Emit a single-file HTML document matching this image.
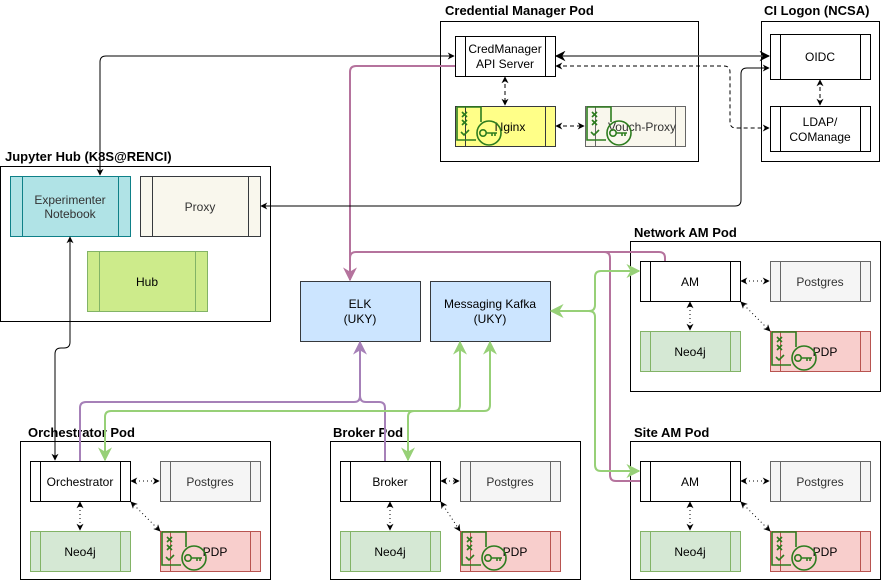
<!DOCTYPE html>
<html><head><meta charset="utf-8"><style>
body{margin:0;background:#fff}
svg{display:block}
text{font-family:"Liberation Sans",Arial,sans-serif;font-size:12px;text-anchor:middle}
.t{font-weight:bold;font-size:13px;text-anchor:start}
</style></head><body>
<svg width="881" height="582" viewBox="0 0 881 582" xmlns="http://www.w3.org/2000/svg">
<defs>
<marker id="a" viewBox="0 0 10 10" refX="9" refY="5" markerWidth="7" markerHeight="7" orient="auto-start-reverse"><path d="M0,0 L10,5 L0,10 L3,5z" fill="#000"/></marker>
<marker id="p" viewBox="0 0 10 10" refX="9" refY="5" markerWidth="7" markerHeight="7" orient="auto-start-reverse"><path d="M0,0 L10,5 L0,10 L3,5z" fill="#b5739d"/></marker>
<marker id="v" viewBox="0 0 10 10" refX="9" refY="5" markerWidth="7" markerHeight="7" orient="auto-start-reverse"><path d="M0,0 L10,5 L0,10 L3,5z" fill="#a680b8"/></marker>
<marker id="g" viewBox="0 0 10 10" refX="9" refY="5" markerWidth="7" markerHeight="7" orient="auto-start-reverse"><path d="M0,0 L10,5 L0,10 L3,5z" fill="#97d077"/></marker>
<g id="ic" fill="none" stroke="#2d7d1f" stroke-width="1.6">
<path d="M1,1 H25 V16 M1,1 V34 H20"/>
<path d="M6,6 l5,5 M11,6 l-5,5 M6,14 l5,5 M11,14 l-5,5 M5,26 l3,3 l5,-5"/>
<circle cx="33" cy="27" r="12"/>
<circle cx="27" cy="27" r="3.2"/>
<path d="M30,27 H41 M36,27 v3 M39,27 v3"/>
</g>
</defs>

<g fill="none" stroke="#000" stroke-width="1">
<rect x="440.5" y="21.5" width="258" height="140"/>
<rect x="761.5" y="21.5" width="118" height="140"/>
<rect x="0.5" y="166.5" width="270" height="155"/>
<rect x="630.5" y="241.5" width="250" height="150"/>
<rect x="20.5" y="441.5" width="250" height="138"/>
<rect x="330.5" y="441.5" width="250" height="138"/>
<rect x="630.5" y="441.5" width="250" height="138"/>
</g>
<text class="t" x="445" y="15">Credential Manager Pod</text>
<text class="t" x="764" y="15">CI Logon (NCSA)</text>
<text class="t" x="5" y="161">Jupyter Hub (K8S@RENCI)</text>
<text class="t" x="634" y="237">Network AM Pod</text>
<text class="t" x="28" y="437">Orchestrator Pod</text>
<text class="t" x="333" y="437">Broker Pod</text>
<text class="t" x="634" y="437">Site AM Pod</text>

<g stroke-width="1">
<g stroke="#000" fill="#fff">
<rect x="455.5" y="36.5" width="100" height="40"/><path d="M465.5,36.5v40M545.5,36.5v40"/>
<rect x="770.5" y="34.5" width="100" height="45"/><path d="M780.5,34.5v45M860.5,34.5v45"/>
<rect x="770.5" y="106.5" width="100" height="45"/><path d="M780.5,106.5v45M860.5,106.5v45"/>
<rect x="30.5" y="461.5" width="100" height="40"/><path d="M40.5,461.5v40M120.5,461.5v40"/>
<rect x="340.5" y="461.5" width="100" height="40"/><path d="M350.5,461.5v40M430.5,461.5v40"/>
<rect x="640.5" y="461.5" width="100" height="40"/><path d="M650.5,461.5v40M730.5,461.5v40"/>
<rect x="640.5" y="261.5" width="100" height="40"/><path d="M650.5,261.5v40M730.5,261.5v40"/>
</g>
<g stroke="#36393d" fill="#ffff88"><rect x="455.5" y="106.5" width="100" height="40"/><path d="M465.5,106.5v40M545.5,106.5v40"/></g>
<g stroke="#666" fill="#f9f7ed"><rect x="585.5" y="106.5" width="100" height="40"/><path d="M595.5,106.5v40M675.5,106.5v40"/></g>
<g stroke="#0e8088" fill="#b0e3e6"><rect x="10.5" y="176.5" width="120" height="60"/><path d="M22.5,176.5v60M118.5,176.5v60"/></g>
<g stroke="#36393d" fill="#f9f7ed"><rect x="140.5" y="176.5" width="120" height="60"/><path d="M152.5,176.5v60M248.5,176.5v60"/></g>
<g stroke="#82b366" fill="#cdeb8b"><rect x="87.5" y="251.5" width="120" height="60"/><path d="M99.5,251.5v60M195.5,251.5v60"/></g>
<g stroke="#36393d" fill="#cce5ff"><rect x="300.5" y="281.5" width="120" height="60"/><rect x="430.5" y="281.5" width="120" height="60"/></g>
<g stroke="#666" fill="#f5f5f5">
<rect x="160.5" y="461.5" width="100" height="40"/><path d="M170.5,461.5v40M250.5,461.5v40"/>
<rect x="460.5" y="461.5" width="100" height="40"/><path d="M470.5,461.5v40M550.5,461.5v40"/>
<rect x="770.5" y="461.5" width="100" height="40"/><path d="M780.5,461.5v40M860.5,461.5v40"/>
<rect x="770.5" y="261.5" width="100" height="40"/><path d="M780.5,261.5v40M860.5,261.5v40"/>
</g>
<g stroke="#82b366" fill="#d5e8d4">
<rect x="30.5" y="531.5" width="100" height="40"/><path d="M40.5,531.5v40M120.5,531.5v40"/>
<rect x="340.5" y="531.5" width="100" height="40"/><path d="M350.5,531.5v40M430.5,531.5v40"/>
<rect x="640.5" y="531.5" width="100" height="40"/><path d="M650.5,531.5v40M730.5,531.5v40"/>
<rect x="640.5" y="331.5" width="100" height="40"/><path d="M650.5,331.5v40M730.5,331.5v40"/>
</g>
<g stroke="#b85450" fill="#f8cecc">
<rect x="160.5" y="531.5" width="100" height="40"/><path d="M170.5,531.5v40M250.5,531.5v40"/>
<rect x="460.5" y="531.5" width="100" height="40"/><path d="M470.5,531.5v40M550.5,531.5v40"/>
<rect x="770.5" y="531.5" width="100" height="40"/><path d="M780.5,531.5v40M860.5,531.5v40"/>
<rect x="770.5" y="331.5" width="100" height="40"/><path d="M780.5,331.5v40M860.5,331.5v40"/>
</g>
</g>

<text x="505" y="53">CredManager</text><text x="505" y="68">API Server</text>
<text x="820" y="61">OIDC</text>
<text x="820" y="126">LDAP/</text><text x="820" y="141">COManage</text>
<text x="510" y="131">Nginx</text><text x="642" y="131" fill="#333">Vouch-Proxy</text>
<text x="70" y="204" fill="#333">Experimenter</text><text x="70" y="218" fill="#333">Notebook</text>
<text x="200" y="211" fill="#333">Proxy</text>
<text x="147" y="286">Hub</text>
<text x="360" y="308">ELK</text><text x="360" y="323">(UKY)</text>
<text x="490" y="308">Messaging Kafka</text><text x="490" y="323">(UKY)</text>
<text x="80" y="486">Orchestrator</text><text x="210" y="486" fill="#333">Postgres</text>
<text x="80" y="556">Neo4j</text><text x="215" y="556">PDP</text>
<text x="390" y="486">Broker</text><text x="510" y="486" fill="#333">Postgres</text>
<text x="390" y="556">Neo4j</text><text x="515" y="556">PDP</text>
<text x="690" y="486">AM</text><text x="820" y="486" fill="#333">Postgres</text>
<text x="690" y="556">Neo4j</text><text x="825" y="556">PDP</text>
<text x="690" y="286">AM</text><text x="820" y="286" fill="#333">Postgres</text>
<text x="690" y="356">Neo4j</text><text x="825" y="356">PDP</text>

<use href="#ic" x="456" y="106"/>
<use href="#ic" x="586" y="106"/>
<use href="#ic" x="161" y="531"/>
<use href="#ic" x="461" y="531"/>
<use href="#ic" x="771" y="531"/>
<use href="#ic" x="771" y="331"/>

<g fill="none" stroke="#b5739d" stroke-width="2">
<path d="M455,66 H356 Q350,66 350,72 V280" marker-end="url(#p)"/>
<path d="M640,481 H616 Q610,481 610,475 V258 Q610,252 604,252 H356 Q350,252 350,258"/>
<path d="M665,261 V258 Q665,252 659,252 H604"/>
</g>
<g fill="none" stroke="#a680b8" stroke-width="2">
<path d="M80,461 V408 Q80,402 86,402 H354 Q360,402 360,396 V342" marker-end="url(#v)"/>
<path d="M385,461 V408 Q385,402 379,402 H366 Q360,402 360,396"/>
</g>
<g fill="none" stroke="#97d077" stroke-width="2">
<path d="M460,342 V405 Q460,411 454,411 H111 Q105,411 105,417 V460" marker-start="url(#g)" marker-end="url(#g)"/>
<path d="M490,342 V405 Q490,411 484,411 H414 Q408,411 408,417 V460" marker-start="url(#g)" marker-end="url(#g)"/>
<path d="M551,311 H589 Q595,311 595,305 V277 Q595,271 601,271 H639" marker-start="url(#g)" marker-end="url(#g)"/>
<path d="M589,311 Q595,311 595,317 V465 Q595,471 601,471 H639" marker-end="url(#g)"/>
</g>

<g fill="none" stroke="#000" stroke-width="1">
<path d="M454,56 H106 Q100,56 100,62 V175" marker-start="url(#a)" marker-end="url(#a)"/>
<path d="M70,237 V342 Q70,348 64,348 H61 Q55,348 55,354 V460" marker-start="url(#a)" marker-end="url(#a)"/>
<path d="M556,56 H769" stroke="#555" stroke-width="1.5" marker-start="url(#a)" marker-end="url(#a)"/>
<path d="M556,66 H724 Q730,66 730,72 V122 Q730,128 736,128 H769" stroke-dasharray="4 3" marker-start="url(#a)" marker-end="url(#a)"/>
<path d="M261,206 H735 Q741,206 741,200 V74 Q741,68 747,68 H769" marker-start="url(#a)" marker-end="url(#a)"/>
<path d="M505,77 V105" stroke-dasharray="4 3" marker-start="url(#a)" marker-end="url(#a)"/>
<path d="M556,126 H584" stroke-dasharray="4 3" marker-start="url(#a)" marker-end="url(#a)"/>
<path d="M820,80 V105" stroke-dasharray="4 3" marker-start="url(#a)" marker-end="url(#a)"/>
</g>
<g fill="none" stroke="#000" stroke-width="1" stroke-dasharray="1 3">
<path d="M131,481 H159" marker-start="url(#a)" marker-end="url(#a)"/>
<path d="M80,502 V530" marker-start="url(#a)" marker-end="url(#a)"/>
<path d="M131,502 L160,531" marker-start="url(#a)" marker-end="url(#a)"/>
<path d="M441,481 H459" marker-start="url(#a)" marker-end="url(#a)"/>
<path d="M390,502 V530" marker-start="url(#a)" marker-end="url(#a)"/>
<path d="M441,502 L460,531" marker-start="url(#a)" marker-end="url(#a)"/>
<path d="M741,481 H769" marker-start="url(#a)" marker-end="url(#a)"/>
<path d="M690,502 V530" marker-start="url(#a)" marker-end="url(#a)"/>
<path d="M741,502 L770,531" marker-start="url(#a)" marker-end="url(#a)"/>
<path d="M741,281 H769" marker-start="url(#a)" marker-end="url(#a)"/>
<path d="M690,302 V330" marker-start="url(#a)" marker-end="url(#a)"/>
<path d="M741,302 L770,331" marker-start="url(#a)" marker-end="url(#a)"/>
</g>
</svg>
</body></html>
